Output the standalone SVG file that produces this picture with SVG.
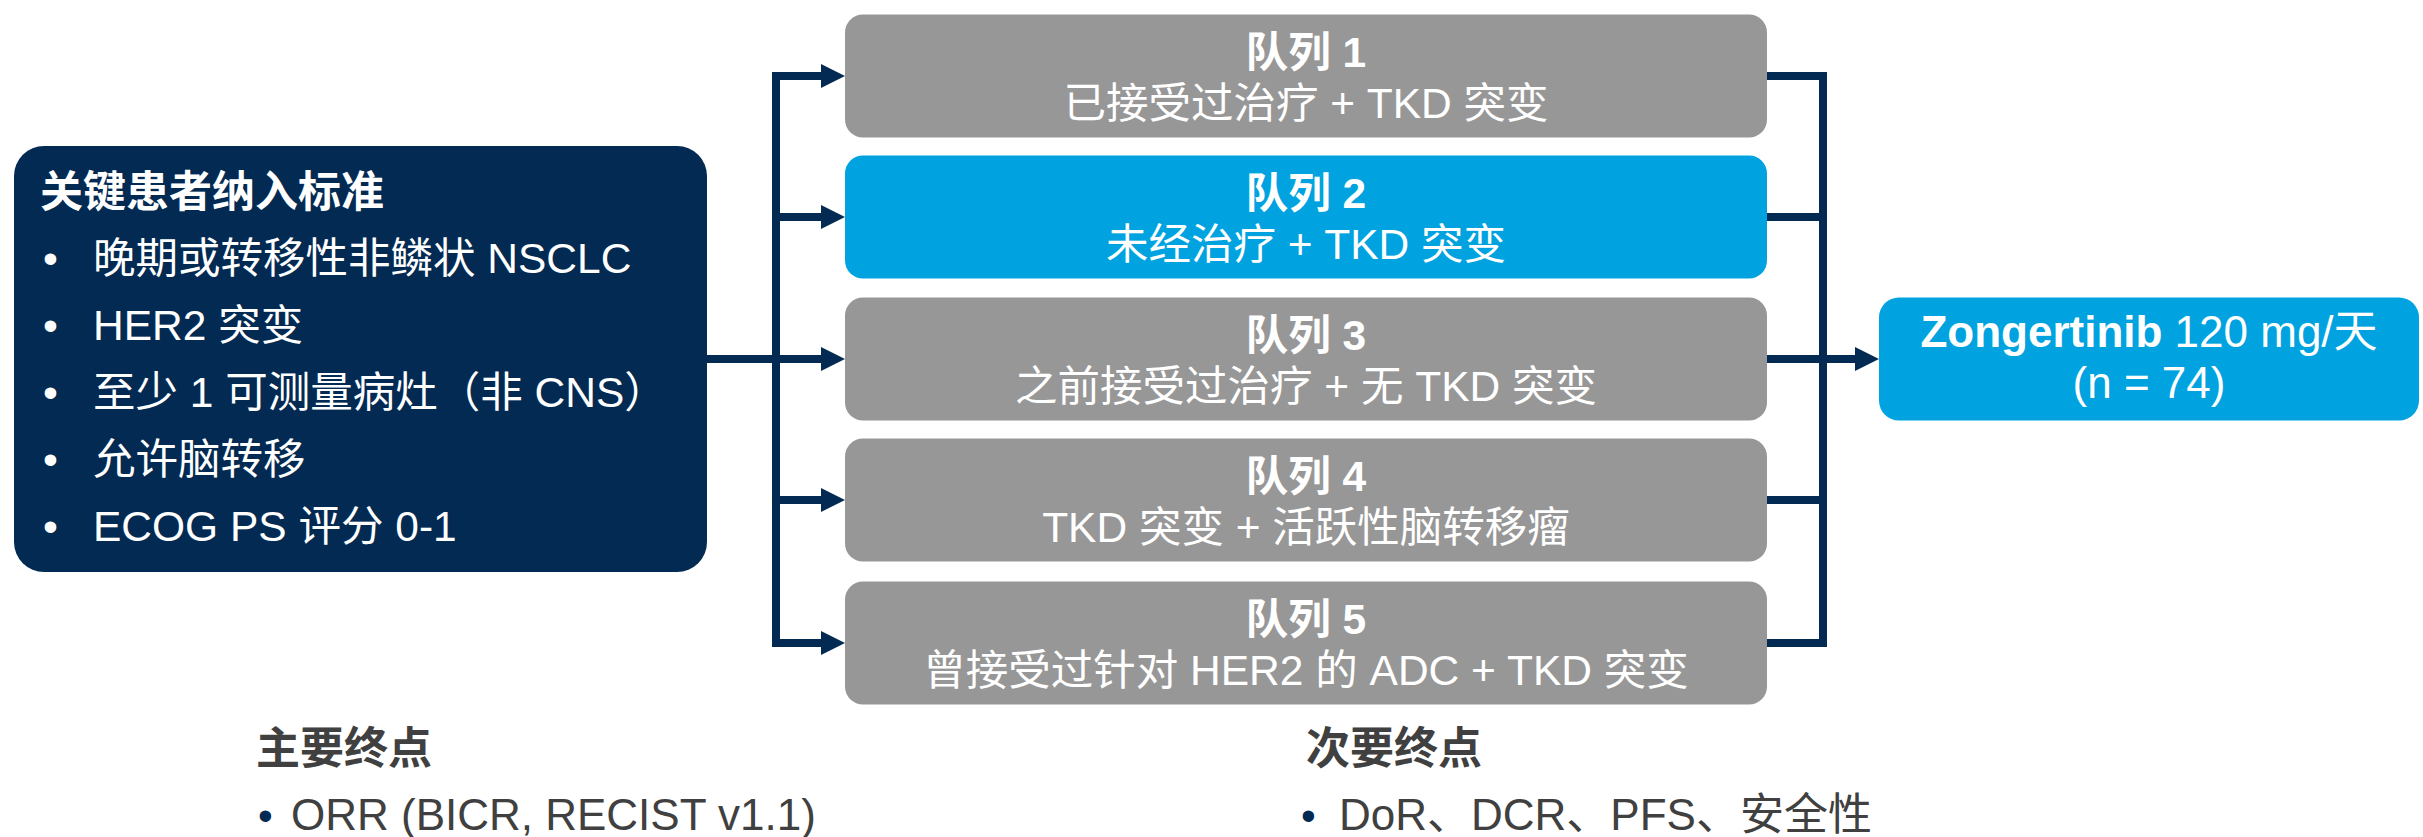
<svg xmlns="http://www.w3.org/2000/svg" width="2423" height="837" viewBox="0 0 2423 837">
<defs>
<style>
text{font-family:"Liberation Sans","Noto Sans CJK SC",sans-serif;}
.navy{fill:#032a52;}
.grey{fill:#979797;}
.cyan{fill:#00a3e0;}
.wt{fill:#ffffff;font-size:42.5px;}
.wtb{fill:#ffffff;font-size:43px;font-weight:bold;}
.ct{fill:#ffffff;font-size:42.5px;text-anchor:middle;}
.ctb{fill:#ffffff;font-size:42.5px;font-weight:bold;text-anchor:middle;}
.rt{fill:#ffffff;font-size:44px;text-anchor:middle;}
.bt{fill:#404040;font-size:44px;}
.bth{fill:#404040;font-size:44px;font-weight:bold;}
.bul{fill:#032a52;font-size:42px;}
.conn{stroke:#032a52;stroke-width:8;fill:none;}
</style>
<marker id="ah" markerUnits="userSpaceOnUse" markerWidth="24" markerHeight="24" refX="0" refY="12" orient="auto">
<path d="M0,0 L24,12 L0,24 z" fill="#032a52"/>
</marker>
</defs>
<rect width="2423" height="837" fill="#ffffff"/>

<g id="connectors">
<line class="conn" x1="707" y1="359" x2="821" y2="359" marker-end="url(#ah)"/>
<line class="conn" x1="776" y1="72" x2="776" y2="647"/>
<line class="conn" x1="772" y1="76" x2="821" y2="76" marker-end="url(#ah)"/>
<line class="conn" x1="772" y1="217" x2="821" y2="217" marker-end="url(#ah)"/>
<line class="conn" x1="772" y1="500" x2="821" y2="500" marker-end="url(#ah)"/>
<line class="conn" x1="772" y1="643" x2="821" y2="643" marker-end="url(#ah)"/>
<line class="conn" x1="1767" y1="76" x2="1827" y2="76"/>
<line class="conn" x1="1767" y1="217" x2="1827" y2="217"/>
<line class="conn" x1="1767" y1="359" x2="1827" y2="359"/>
<line class="conn" x1="1767" y1="500" x2="1827" y2="500"/>
<line class="conn" x1="1767" y1="643" x2="1827" y2="643"/>
<line class="conn" x1="1823" y1="72" x2="1823" y2="647"/>
<line class="conn" x1="1823" y1="359" x2="1855" y2="359" marker-end="url(#ah)"/>
</g>

<g id="criteria">
<rect class="navy" x="14" y="146" width="693" height="426" rx="30"/>
<text class="wtb" x="40" y="207">关键患者纳入标准</text>
<text class="wt" x="43" y="273">•</text><text class="wt" x="93" y="273">晚期或转移性非鳞状 NSCLC</text>
<text class="wt" x="43" y="340">•</text><text class="wt" x="93" y="340">HER2 突变</text>
<text class="wt" x="43" y="407">•</text><text class="wt" x="93" y="407">至少 1 可测量病灶（非 CNS）</text>
<text class="wt" x="43" y="474">•</text><text class="wt" x="93" y="474">允许脑转移</text>
<text class="wt" x="43" y="541">•</text><text class="wt" x="93" y="541">ECOG PS 评分 0-1</text>
</g>

<g id="cohort1">
<rect class="grey" x="845" y="14.5" width="922" height="123" rx="18"/>
<text class="ctb" x="1306" y="66.5">队列 1</text>
<text class="ct" x="1306" y="117.5">已接受过治疗 + TKD 突变</text>
</g>
<g id="cohort2">
<rect class="cyan" x="845" y="155.5" width="922" height="123" rx="18"/>
<text class="ctb" x="1306" y="207.5">队列 2</text>
<text class="ct" x="1306" y="258.5">未经治疗 + TKD 突变</text>
</g>
<g id="cohort3">
<rect class="grey" x="845" y="297.5" width="922" height="123" rx="18"/>
<text class="ctb" x="1306" y="349.5">队列 3</text>
<text class="ct" x="1306" y="400.5">之前接受过治疗 + 无 TKD 突变</text>
</g>
<g id="cohort4">
<rect class="grey" x="845" y="438.5" width="922" height="123" rx="18"/>
<text class="ctb" x="1306" y="490.5">队列 4</text>
<text class="ct" x="1306" y="541.5">TKD 突变 + 活跃性脑转移瘤</text>
</g>
<g id="cohort5">
<rect class="grey" x="845" y="581.5" width="922" height="123" rx="18"/>
<text class="ctb" x="1306" y="633.5">队列 5</text>
<text class="ct" x="1306" y="684.5">曾接受过针对 HER2 的 ADC + TKD 突变</text>
</g>

<g id="treatment">
<rect class="cyan" x="1879" y="297.5" width="540" height="123" rx="20"/>
<text class="rt" x="2149" y="347"><tspan font-weight="bold">Zongertinib</tspan> 120 mg/天</text>
<text class="rt" x="2149" y="398">(n = 74)</text>
</g>

<g id="primary">
<text class="bth" x="256" y="764">主要终点</text>
<text class="bul" x="258" y="830">•</text>
<text class="bt" x="291" y="830">ORR (BICR, RECIST v1.1)</text>
</g>
<g id="secondary">
<text class="bth" x="1306" y="764">次要终点</text>
<text class="bul" x="1301" y="830">•</text>
<text class="bt" x="1339" y="830">DoR、DCR、PFS、安全性</text>
</g>
</svg>
